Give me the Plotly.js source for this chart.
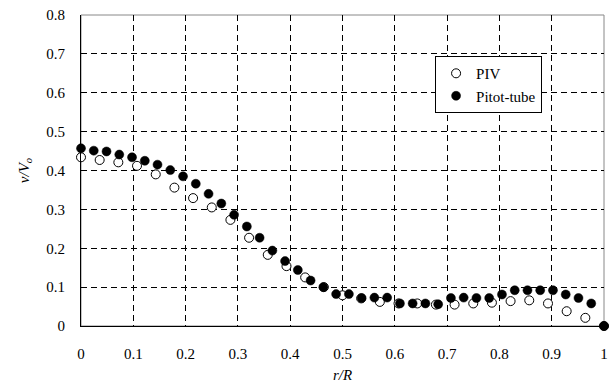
<!DOCTYPE html>
<html><head><meta charset="utf-8">
<script src="https://cdn.plot.ly/plotly-3.0.1.min.js"></script>
<style>html,body{margin:0;padding:0;background:#fff}#chart{width:613px;height:385px}</style>
</head><body><div id="chart"></div>
<script>
// PIV: 29 points, x = i/28
const pivX = [0,0.0357,0.0714,0.1071,0.1429,0.1786,0.2143,0.25,0.2857,0.3214,0.3571,0.3929,0.4286,0.4643,0.5,0.5357,0.5714,0.6071,0.6429,0.6786,0.7143,0.75,0.7857,0.8214,0.8571,0.8929,0.9286,0.9643,1.0];
const pivY = [0.434,0.427,0.421,0.412,0.390,0.356,0.329,0.305,0.273,0.227,0.183,0.154,0.125,0.100,0.079,0.071,0.062,0.058,0.058,0.055,0.055,0.058,0.060,0.064,0.066,0.058,0.038,0.021,0.0];
// Pitot-tube: 42 points, x = i/41
const pitotX = [0,0.0244,0.0488,0.0732,0.0976,0.1220,0.1463,0.1707,0.1951,0.2195,0.2439,0.2683,0.2927,0.3171,0.3415,0.3659,0.3902,0.4146,0.4390,0.4634,0.4878,0.5122,0.5366,0.5610,0.5854,0.6098,0.6341,0.6585,0.6829,0.7073,0.7317,0.7561,0.7805,0.8049,0.8293,0.8537,0.8780,0.9024,0.9268,0.9512,0.9756,1.0];
const pitotY = [0.457,0.451,0.449,0.441,0.434,0.425,0.415,0.401,0.385,0.366,0.340,0.315,0.286,0.256,0.227,0.194,0.167,0.144,0.117,0.100,0.082,0.082,0.072,0.073,0.073,0.058,0.058,0.058,0.056,0.072,0.073,0.072,0.072,0.081,0.092,0.092,0.092,0.092,0.081,0.072,0.058,0.0];
const seriesNames = ['PIV','Pitot-tube'];
const xTitle = '<i>r/R</i>';
const yTitle = '<i>v/V<sub>o</sub></i>';

const FONT = 'Liberation Serif, Times New Roman, serif';
const traces = [
  {x: pivX, y: pivY, name: seriesNames[0], type: 'scatter', mode: 'markers', cliponaxis: false,
   marker: {symbol: 'circle', size: 9, color: '#ffffff', line: {color: '#000', width: 1}}},
  {x: pitotX, y: pitotY, name: seriesNames[1], type: 'scatter', mode: 'markers', cliponaxis: false,
   marker: {symbol: 'circle', size: 9, color: '#000', line: {color: '#000', width: 0.5}}}
];
const layout = {
  width: 613, height: 385,
  margin: {l: 81, r: 9, t: 15, b: 59},
  paper_bgcolor: '#fff', plot_bgcolor: '#fff',
  font: {family: FONT, size: 15, color: '#000'},
  showlegend: true,
  legend: {x: 0.677, y: 0.868, xanchor: 'left', yanchor: 'top', bordercolor: '#000', borderwidth: 1,
           bgcolor: '#fff', font: {family: FONT, size: 15, color: '#000'}},
  xaxis: {range: [0, 1], dtick: 0.1, tick0: 0, showgrid: true, gridcolor: '#000', griddash: '6px,4px', gridwidth: 1,
          zeroline: false, showline: true, linecolor: '#000', linewidth: 1, ticks: '', ticklabelstandoff: 14,
          tickfont: {family: FONT, size: 15, color: '#000'},
          title: {text: xTitle, standoff: 8, font: {family: FONT, size: 15, color: '#000'}}},
  yaxis: {range: [0, 0.8], dtick: 0.1, tick0: 0, showgrid: true, gridcolor: '#000', griddash: '6px,4px', gridwidth: 1,
          zeroline: false, showline: true, linecolor: '#000', linewidth: 1, ticks: '', ticklabelstandoff: 12,
          tickfont: {family: FONT, size: 15, color: '#000'},
          title: {text: yTitle, standoff: 13, font: {family: FONT, size: 15, color: '#000'}}},
  shapes: [{type: 'rect', xref: 'paper', yref: 'paper', x0: 0, x1: 1, y0: 0, y1: 1, layer: 'below',
            line: {color: '#888', width: 1}}]
};
Plotly.newPlot('chart', traces, layout, {displayModeBar: false, staticPlot: true});
</script></body></html>
